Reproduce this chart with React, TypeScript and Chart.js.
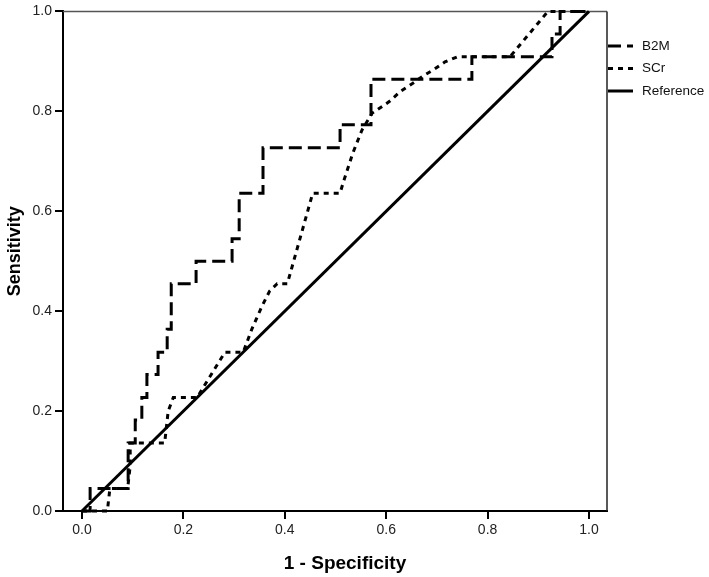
import { useEffect, useRef } from "react";
import { Chart, registerables } from "chart.js";

Chart.register(...registerables);

// B2M ROC curve (1 - specificity, sensitivity)
const b2mX = [0, 0.016, 0.016, 0.091, 0.091, 0.105, 0.105, 0.118, 0.118, 0.128, 0.128, 0.15, 0.15, 0.168, 0.168, 0.176, 0.176, 0.225, 0.225, 0.296, 0.296, 0.31, 0.31, 0.357, 0.357, 0.509, 0.509, 0.57, 0.57, 0.769, 0.769, 0.927, 0.927, 0.943, 0.943, 1.0];
const b2mY = [0, 0, 0.045, 0.045, 0.136, 0.136, 0.182, 0.182, 0.227, 0.227, 0.273, 0.273, 0.318, 0.318, 0.364, 0.364, 0.455, 0.455, 0.5, 0.5, 0.545, 0.545, 0.636, 0.636, 0.727, 0.727, 0.773, 0.773, 0.864, 0.864, 0.909, 0.909, 0.955, 0.955, 1.0, 1.0];

// SCr ROC curve
const scrX = [0, 0.05, 0.055, 0.09, 0.095, 0.095, 0.163, 0.17, 0.18, 0.227, 0.282, 0.318, 0.335, 0.355, 0.37, 0.385, 0.405, 0.455, 0.509, 0.515, 0.534, 0.552, 0.572, 0.594, 0.608, 0.627, 0.651, 0.673, 0.696, 0.716, 0.74, 0.844, 0.919, 1.0];
const scrY = [0, 0, 0.045, 0.045, 0.09, 0.136, 0.136, 0.2, 0.227, 0.227, 0.318, 0.318, 0.364, 0.41, 0.44, 0.455, 0.455, 0.636, 0.636, 0.657, 0.716, 0.762, 0.796, 0.811, 0.821, 0.839, 0.855, 0.871, 0.885, 0.899, 0.909, 0.909, 1.0, 1.0];

// Reference diagonal
const refX = [0, 1];
const refY = [0, 1];

const seriesLabels = ["B2M", "SCr", "Reference"];
const xTickValues = [0, 0.2, 0.4, 0.6, 0.8, 1.0];
const yTickValues = [0, 0.2, 0.4, 0.6, 0.8, 1.0];
const xTitle = "1 - Specificity";
const yTitle = "Sensitivity";

const FONT = '"Liberation Sans", Arial, Helvetica, sans-serif';

export default function App() {
  const ref = useRef<HTMLCanvasElement>(null);

  useEffect(() => {
    document.body.style.margin = "0";
    const canvas = ref.current;
    if (!canvas) return;
    const toPts = (xs: number[], ys: number[]) => xs.map((x, i) => ({ x, y: ys[i] }));

    const framePlugin = {
      id: "frameAndLegend",
      beforeDatasetsDraw(chart: any) {
        const { ctx, chartArea } = chart;
        ctx.save();
        ctx.strokeStyle = "#555";
        ctx.lineWidth = 1.5;
        ctx.beginPath();
        ctx.moveTo(chartArea.left, chartArea.top);
        ctx.lineTo(chartArea.right, chartArea.top);
        ctx.stroke();
        ctx.strokeStyle = "#222";
        ctx.beginPath();
        ctx.moveTo(chartArea.right, chartArea.top);
        ctx.lineTo(chartArea.right, chartArea.bottom);
        ctx.stroke();
        ctx.restore();
      },
      afterDraw(chart: any) {
        const { ctx, chartArea } = chart;
        ctx.save();
        // axis titles
        ctx.fillStyle = "#000";
        ctx.font = `bold 19px ${FONT}`;
        ctx.textAlign = "center";
        ctx.textBaseline = "middle";
        ctx.fillText(xTitle, chartArea.left + (chartArea.right - chartArea.left) / 2 + 10, 564);
        ctx.save();
        ctx.translate(15, (chartArea.top + chartArea.bottom) / 2 - 10);
        ctx.rotate(-Math.PI / 2);
        ctx.font = `bold 18px ${FONT}`;
        ctx.fillText(yTitle, 0, 0);
        ctx.restore();
        // legend
        const x0 = chartArea.right + 1;
        chart.data.datasets.forEach((ds: any, i: number) => {
          const y = 46 + i * 22.5;
          ctx.strokeStyle = "#000";
          ctx.lineWidth = ds.borderWidth;
          ctx.setLineDash(ds.borderDash || []);
          ctx.beginPath();
          ctx.moveTo(x0, y);
          ctx.lineTo(x0 + 25, y);
          ctx.stroke();
          ctx.setLineDash([]);
          ctx.fillStyle = "#111";
          ctx.font = `13.5px ${FONT}`;
          ctx.textBaseline = "middle";
          ctx.textAlign = "left";
          ctx.fillText(ds.label, x0 + 34, y);
        });
        ctx.restore();
      },
    };

    const chart = new Chart(canvas, {
      type: "line",
      data: {
        datasets: [
          { label: seriesLabels[0], data: toPts(b2mX, b2mY), borderColor: "#000", borderWidth: 3, borderDash: [13, 6], pointRadius: 0, tension: 0, fill: false, clip: false },
          { label: seriesLabels[1], data: toPts(scrX, scrY), borderColor: "#000", borderWidth: 3, borderDash: [5, 5], pointRadius: 0, tension: 0, fill: false, clip: false },
          { label: seriesLabels[2], data: toPts(refX, refY), borderColor: "#000", borderWidth: 3, borderDash: [], pointRadius: 0, tension: 0, fill: false, clip: false },
        ],
      } as any,
      options: {
        responsive: false,
        animation: false,
        events: [],
        layout: { padding: { top: 7, right: 102, left: 0, bottom: 0 } },
        plugins: { legend: { display: false }, tooltip: { enabled: false } },
        scales: {
          x: {
            type: "linear",
            min: -0.0375,
            max: 1.0355,
            afterBuildTicks: (s: any) => {
              s.ticks = xTickValues.map((v) => ({ value: v }));
            },
            afterFit: (s: any) => {
              s.height = 66;
            },
            ticks: {
              callback: (v: any) => Number(v).toFixed(1),
              font: { family: FONT, size: 14 },
              color: "#222",
              padding: 3,
              maxRotation: 0,
            },
            grid: { drawOnChartArea: false, drawTicks: true, tickLength: 8, color: "#000", lineWidth: 2 },
            border: { display: true, color: "#000", width: 2 },
            title: { display: false },
          },
          y: {
            type: "linear",
            min: 0,
            max: 1,
            afterBuildTicks: (s: any) => {
              s.ticks = yTickValues.map((v) => ({ value: v }));
            },
            afterFit: (s: any) => {
              s.width = 63;
            },
            ticks: {
              callback: (v: any) => Number(v).toFixed(1),
              font: { family: FONT, size: 14 },
              color: "#222",
              padding: 3,
            },
            grid: { drawOnChartArea: false, drawTicks: true, tickLength: 8, color: "#000", lineWidth: 2 },
            border: { display: true, color: "#000", width: 2 },
            title: { display: false },
          },
        },
      } as any,
      plugins: [framePlugin],
    });
    return () => chart.destroy();
  }, []);

  return (
    <div style={{ width: 709, height: 577, background: "#fff" }}>
      <canvas ref={ref} width={709} height={577} style={{ display: "block" }} />
    </div>
  );
}
